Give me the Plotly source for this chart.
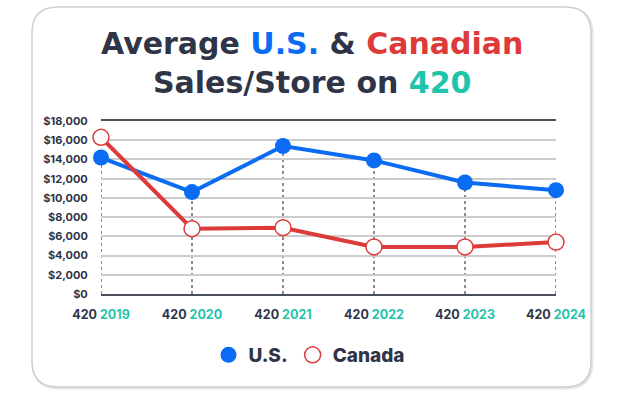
import plotly.graph_objects as go

years = ["2019", "2020", "2021", "2022", "2023", "2024"]
us_sales = [14200, 10600, 15400, 13900, 11600, 10800]
canada_sales = [16300, 6800, 6900, 4900, 4900, 5400]
y_ticks = [0, 2000, 4000, 6000, 8000, 10000, 12000, 14000, 16000, 18000]
y_tick_labels = ["$0", "$2,000", "$4,000", "$6,000", "$8,000", "$10,000",
                 "$12,000", "$14,000", "$16,000", "$18,000"]

DARK = "#2f3447"
BLUE = "#0a6cf2"
RED = "#dd3a3a"
TEAL = "#1fc4ad"
FONT = "Inter"
TITLE_FONT = "DejaVu Sans"

W, H = 624, 395
L, R, T, B = 101, 68, 121, 101
PW, PH = W - L - R, H - T - B

def px(x):
    return (x - L) / PW

def py(y):
    return (H - B - y) / PH

def rounded_rect(x0, y0, x1, y1, r):
    pts = [
        f"M {px(x0 + r)},{py(y0)}",
        f"L {px(x1 - r)},{py(y0)}",
        f"Q {px(x1)},{py(y0)} {px(x1)},{py(y0 + r)}",
        f"L {px(x1)},{py(y1 - r)}",
        f"Q {px(x1)},{py(y1)} {px(x1 - r)},{py(y1)}",
        f"L {px(x0 + r)},{py(y1)}",
        f"Q {px(x0)},{py(y1)} {px(x0)},{py(y1 - r)}",
        f"L {px(x0)},{py(y0 + r)}",
        f"Q {px(x0)},{py(y0)} {px(x0 + r)},{py(y0)}",
        "Z",
    ]
    return " ".join(pts)

x_idx = list(range(len(years)))
tick_text = [f"420 <span style='color:{TEAL}'>{y}</span>" for y in years]

fig = go.Figure()
fig.add_trace(go.Scatter(x=x_idx, y=us_sales, mode="lines", showlegend=False,
                         line=dict(color=BLUE, width=4), hoverinfo="skip"))
fig.add_trace(go.Scatter(x=x_idx, y=canada_sales, mode="lines", showlegend=False,
                         line=dict(color=RED, width=4), hoverinfo="skip"))
fig.add_trace(go.Scatter(
    x=x_idx, y=us_sales, name="U.S.", mode="markers",
    marker=dict(size=16, color=BLUE, line=dict(width=0)),
    cliponaxis=False,
))
fig.add_trace(go.Scatter(
    x=x_idx, y=canada_sales, name="Canada", mode="markers",
    marker=dict(size=16, color="white", line=dict(width=1.5, color=RED)),
    cliponaxis=False,
))

shapes = []
shapes.append(dict(type="path", xref="paper", yref="paper",
                   path=rounded_rect(33, 8, 592, 388, 26),
                   line=dict(color="rgba(0,0,0,0.10)", width=3), layer="below"))
shapes.append(dict(type="path", xref="paper", yref="paper",
                   path=rounded_rect(32, 7, 591, 387, 26),
                   line=dict(color="#cfcfcf", width=1.5), fillcolor="white", layer="below"))
for i, v in zip(x_idx, us_sales):
    shapes.append(dict(type="line", xref="x", yref="y", x0=i, x1=i, y0=0, y1=v,
                       line=dict(color="#3d4252", width=1.2, dash="dot"), layer="below"))

title_text = (f"Average <span style='color:{BLUE}'>U.S.</span> &amp; "
              f"<span style='color:{RED}'>Canadian</span><br>"
              f"Sales/Store on <span style='color:{TEAL}'>420</span>")

fig.update_layout(
    width=W, height=H,
    margin=dict(l=L, r=R, t=T, b=B),
    paper_bgcolor="white", plot_bgcolor="rgba(0,0,0,0)",
    showlegend=True,
    legend=dict(orientation="h", x=px(309), xanchor="center", y=py(355), yanchor="middle",
                font=dict(family=FONT, size=19, color=DARK, weight=800),
                traceorder="normal", itemwidth=30),
    shapes=shapes,
    annotations=[
        dict(xref="paper", yref="paper", x=px(312), y=py(63), xanchor="center", yanchor="middle",
             showarrow=False, text=title_text,
             font=dict(family=TITLE_FONT, size=30, color=DARK, weight="bold")),
    ],
)
fig.update_xaxes(
    range=[0, len(years) - 1], tickvals=x_idx, ticktext=tick_text,
    showgrid=False, zeroline=False,
    showline=True, linecolor="#4a4f5c", linewidth=1.5, mirror=True,
    ticks="outside", ticklen=8, tickcolor="rgba(0,0,0,0)",
    tickfont=dict(family=FONT, size=12.5, color=DARK, weight=700),
)
fig.update_yaxes(
    range=[0, 18000], tickvals=y_ticks, ticktext=y_tick_labels,
    showgrid=True, gridcolor="#cccccc", gridwidth=1.5, zeroline=False, showline=False,
    ticks="outside", ticklen=10, tickcolor="rgba(0,0,0,0)",
    tickfont=dict(family=FONT, size=11, color=DARK, weight=700),
)

fig.write_html("out.html", config={"displayModeBar": False},
               post_script="document.body.style.margin='0';")
